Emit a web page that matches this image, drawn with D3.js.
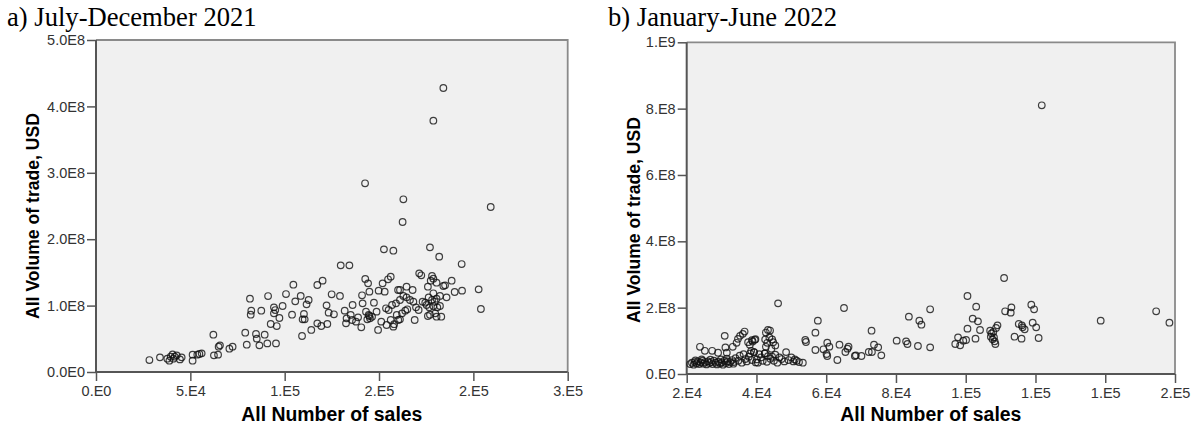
<!DOCTYPE html>
<html>
<head>
<meta charset="utf-8">
<script src="https://cdn.jsdelivr.net/npm/d3@7"></script>
<style>
  html, body { margin: 0; padding: 0; background: #fff; }
  svg { display: block; }
  .tick text { font-family: "Liberation Sans", Arial, sans-serif; font-size: 14.5px; fill: #333; }
  .tick line { stroke: #555; stroke-width: 1.5; }
  .domain { display: none; }
</style>
</head>
<body>
<svg id="chart" width="1199" height="432"></svg>
<script>
// Panel a) July-December 2021: number of sales (thousands) vs volume of trade (million USD)
const salesA = [
  28.3, 33.9, 37.8, 38.9, 39.6, 40.6, 41.0, 41.7, 42.8, 44.5, 45.4, 51.2, 51.2, 53.7, 54.8, 56.0,
  62.2, 62.5, 64.7, 65.0, 65.7, 70.7, 72.4, 79.1, 79.9, 81.6, 82.3, 82.0, 84.8, 85.2, 86.6, 87.6,
  89.4, 90.8, 91.2, 92.6, 94.3, 94.3, 95.0, 95.8, 95.4, 97.2, 98.9, 100.7, 103.9, 104.6, 105.6,
  108.5, 110.2, 109.5, 110.6, 111.6, 112.7, 109.2, 114.1, 117.3, 120.1, 117.3, 119.4, 122.6, 122.2,
  123.3, 126.1, 124.9, 129.3, 129.7, 134.3, 131.8, 132.8, 132.5, 135.0, 135.7, 136.0, 137.8, 138.9,
  141.0, 141.3, 140.6, 142.7, 144.2, 144.9, 143.1, 144.5, 145.2, 146.3, 143.8, 144.9, 147.3, 148.7,
  149.5, 149.8, 151.2, 151.9, 153.0, 154.0, 153.7, 155.1, 156.2, 156.9, 157.6, 158.0, 154.8, 156.2,
  159.0, 160.1, 159.4, 160.2, 152.6, 157.6, 142.6,
  162.5, 177.0, 181.9, 193.8, 171.3, 172.4, 178.1, 178.8, 177.4, 180.5, 184.1, 185.0, 188.5, 190.1,
  194.0, 202.8, 204.0, 175.9, 185.8, 182.3, 178.8, 176.3, 178.1, 179.5, 180.5, 175.2, 176.6, 178.8,
  180.9, 182.3, 175.9, 177.0, 179.8, 180.5, 183.0, 174.5, 173.1, 171.0, 168.9, 169.6, 168.2, 166.4,
  164.6, 162.9, 161.1, 164.6, 167.8, 161.1, 163.9, 162.2, 165.0, 161.1,
  162.9, 209.2, 184.1, 178.8
];
const volumeA = [
  18.0, 22.1, 20.0, 17.0, 23.1, 26.6, 20.0, 23.1, 25.1, 19.0, 22.1, 17.0, 26.1, 26.1, 27.1, 28.1,
  56.2, 25.1, 26.1, 38.1, 40.1, 35.1, 38.1, 59.2, 41.1, 110.4, 92.3, 86.3, 57.2, 50.2, 40.1, 92.3,
  56.2, 43.1, 114.4, 72.3, 97.4, 88.3, 93.3, 69.2, 43.1, 81.3, 99.4, 117.4, 86.3, 131.5, 106.4,
  114.5, 87.4, 79.3, 79.3, 101.9, 108.4, 54.2, 63.3, 131.0, 137.6, 73.3, 69.3, 72.3, 100.4,
  89.4, 86.9, 117.0, 114.5, 160.6, 160.6, 92.4, 80.8, 73.3, 85.9, 78.3, 100.9, 75.8, 82.3,
  115.5, 103.4, 67.3, 140.1, 133.5, 121.0, 90.9, 85.9, 80.8, 83.3, 79.3, 84.3, 104.4, 90.9,
  63.3, 122.5, 75.8, 133.5, 121.0, 70.8, 95.9, 93.4, 78.3, 100.9, 68.3, 72.0, 139.6, 143.6,
  103.4, 123.5, 85.9, 78.3, 184.7, 182.7, 284.2,
  225.9, 187.7, 173.7, 162.6, 148.6, 145.6, 144.6, 140.6, 137.5, 134.5, 129.5, 130.5, 137.5, 120.5,
  122.5, 124.5, 94.9, 128.5, 112.4, 114.5, 118.5, 112.4, 108.4, 105.9, 110.4, 100.9, 97.4, 99.4,
  97.4, 99.4, 84.3, 86.3, 88.3, 83.3, 83.3, 104.4, 105.9, 93.4, 78.3, 97.4, 105.9, 108.4,
  112.4, 114.5, 108.4, 128.5, 123.5, 123.5, 92.4, 88.3, 94.4, 79.3,
  260.1, 248.5, 427.7, 378.5
];

// Panel b) January-June 2022
const salesB = [
  21.0, 21.5, 22.0, 22.3, 22.8, 23.2, 23.6, 24.0, 24.5, 24.8, 25.2, 25.7, 26.1, 26.5, 27.0, 27.4,
  27.8, 28.3, 28.7, 29.1, 29.6, 30.0, 30.4, 30.8, 31.2, 31.7, 32.1, 32.5, 33.0, 33.4, 24.3, 26.8,
  29.8, 31.5, 22.5,
  33.5, 34.0, 34.8, 35.2, 35.8, 36.3, 36.8, 37.2, 37.8, 38.2, 38.7, 39.3, 39.8, 40.1, 40.4, 40.8,
  41.3, 41.8, 42.4, 43.0, 43.3, 44.0, 44.5, 45.0, 45.4, 46.0, 46.6, 47.2, 48.0, 48.5, 49.2, 50.0,
  50.6, 51.0, 51.5, 52.2, 53.3,
  23.8, 25.2, 27.3, 29.0, 30.9, 31.1, 31.5, 33.2, 34.3, 34.7, 35.3, 36.1, 36.6, 37.6, 38.1, 38.7,
  38.9, 39.5, 39.7, 38.5, 39.3, 42.7, 43.3, 43.9, 42.5, 43.1, 43.7, 44.5, 44.8, 42.7, 44.3, 45.4,
  42.4, 46.2,
  54.0, 54.2, 56.9, 57.6, 56.9, 59.2, 60.3, 60.9, 60.1, 60.3, 63.2, 63.8, 65.5, 66.4, 66.1, 68.2,
  68.5, 70.1, 73.0, 72.2, 73.1, 73.7, 74.9, 75.8, 65.1,
  80.2, 82.9, 83.3, 83.7, 86.3, 86.7, 87.3, 89.8, 89.8,
  97.0, 98.4, 97.8, 99.3, 100.1, 102.8, 100.5, 102.0, 103.5, 104.1, 100.5, 103.0,
  107.0, 107.4, 107.9, 107.7, 107.2, 108.5, 108.1, 108.7, 109.1, 108.3,
  111.0, 111.3, 112.9, 113.1, 115.2, 116.1, 116.9, 116.3, 114.0, 116.0,
  118.8, 119.6, 119.2, 120.2, 120.9, 121.8, 138.7, 154.6, 158.4
];
const volumeB = [
  30, 34, 28, 36, 32, 38, 30, 35, 40, 31, 36, 29, 38, 33, 36, 30,
  40, 34, 29, 37, 32, 35, 28, 40, 33, 38, 30, 36, 42, 31, 44, 43,
  44, 46, 41,
  36, 48, 40, 55, 34, 60, 45, 38, 52, 62, 42, 66, 35, 44, 34, 60,
  50, 40, 62, 37, 54, 46, 52, 40, 58, 34, 50, 45, 38, 66, 42, 50,
  38, 44, 40, 36, 34,
  82, 70, 70, 64, 115, 80, 64, 82, 94, 106, 115, 121, 128, 96, 88, 102,
  98, 103, 105, 70, 66, 125, 133, 131, 104, 94, 110, 104, 96, 82, 76, 86,
  62, 213,
  102.5, 96.5, 124.6, 160.8, 72.4, 74.4, 94.5, 82.4, 60.3, 54.3, 42.2, 88.4, 66.3, 82.4, 76.4, 54.3,
  56.3, 54.3, 130.6, 66.3, 66.3, 88.4, 80.4, 56.3, 199.0,
  100.5, 98.5, 90.4, 172.9, 84.4, 160.8, 148.7, 195.0, 80.4,
  90.4, 86.4, 110.5, 100.5, 102.5, 106.5, 136.7, 166.8, 158.8, 132.6, 235.2, 203.0,
  130.6, 122.6, 126.6, 104.5, 112.5, 90.4, 110.5, 138.7, 146.7, 98.5,
  289.4, 189.0, 184.9, 201.0, 150.7, 146.7, 134.6, 140.7, 112.5, 106.5,
  209.0, 195.0, 154.7, 140.7, 108.5, 810.0, 160.8, 189.0, 154.7
];

// Axis ticks (values in thousands / millions) and their printed labels
const xTicksA = [0, 50, 100, 150, 200, 250];
const xLabelsA = ["0.E0", "5.E4", "1.E5", "2.E5", "2.E5", "3.E5"];
const yTicksA = [0, 100, 200, 300, 400, 500];
const yLabelsA = ["0.0E0", "1.0E8", "2.0E8", "3.0E8", "4.0E8", "5.0E8"];
const xTicksB = [20, 40, 60, 80, 100, 120, 140, 160];
const xLabelsB = ["2.E4", "4.E4", "6.E4", "8.E4", "1.E5", "1.E5", "1.E5", "2.E5"];
const yTicksB = [0, 200, 400, 600, 800, 1000];
const yLabelsB = ["0.E0", "2.E8", "4.E8", "6.E8", "8.E8", "1.E9"];

const titles = ["a) July-December 2021", "b) January-June 2022"];
const xTitle = "All Number of sales";
const yTitle = "All Volume of trade, USD";

const svg = d3.select("#chart");

const panels = [
  { title: titles[0], titleX: 7, sales: salesA, volume: volumeA,
    xDomain: [0, 250], yDomain: [0, 500], left: 96, right: 567.7, top: 40, bottom: 372,
    xTicks: xTicksA, xLabels: xLabelsA, yTicks: yTicksA, yLabels: yLabelsA,
    yTitleX: 39, yTitleY: 216 },
  { title: titles[1], titleX: 608, sales: salesB, volume: volumeB,
    xDomain: [20, 160], yDomain: [0, 1000], left: 686.7, right: 1175, top: 42.3, bottom: 374,
    xTicks: xTicksB, xLabels: xLabelsB, yTicks: yTicksB, yLabels: yLabelsB,
    yTitleX: 640, yTitleY: 220 }
];

panels.forEach(p => {
  const g = svg.append("g");
  const x = d3.scaleLinear().domain(p.xDomain).range([p.left, p.right]);
  const y = d3.scaleLinear().domain(p.yDomain).range([p.bottom, p.top]);

  g.append("text")
    .attr("x", p.titleX).attr("y", 26)
    .attr("font-family", "'Liberation Serif', 'Times New Roman', serif")
    .attr("font-size", 26.6).attr("fill", "#000")
    .text(p.title);

  // plot area background and frame
  g.append("rect")
    .attr("x", p.left).attr("y", p.top)
    .attr("width", p.right - p.left).attr("height", p.bottom - p.top)
    .attr("fill", "#f0f0f0");
  g.append("path")
    .attr("d", `M${p.left},${p.top}H${p.right}V${p.bottom}`)
    .attr("fill", "none").attr("stroke", "#8a8a8a").attr("stroke-width", 1.8);

  const xAxis = d3.axisBottom(x)
    .tickValues(p.xTicks)
    .tickFormat((d, i) => p.xLabels[i])
    .tickSize(9).tickSizeOuter(0).tickPadding(5);
  g.append("g").attr("transform", `translate(0,${p.bottom})`).call(xAxis);

  const yAxis = d3.axisLeft(y)
    .tickValues(p.yTicks)
    .tickFormat((d, i) => p.yLabels[i])
    .tickSize(9).tickSizeOuter(0).tickPadding(2);
  g.append("g").attr("transform", `translate(${p.left},0)`).call(yAxis);

  // axis lines
  g.append("path")
    .attr("d", `M${p.left},${p.top}V${p.bottom}H${p.right}`)
    .attr("fill", "none").attr("stroke", "#555").attr("stroke-width", 2);

  // scatter points
  g.append("g").selectAll("circle")
    .data(p.sales.map((s, i) => [s, p.volume[i]]))
    .join("circle")
    .attr("cx", d => x(d[0]))
    .attr("cy", d => y(d[1]))
    .attr("r", 3.3)
    .attr("fill", "none")
    .attr("stroke", "#111")
    .attr("stroke-opacity", 0.8)
    .attr("stroke-width", 1.2);

  g.append("text")
    .attr("x", (p.left + p.right) / 2).attr("y", 421)
    .attr("text-anchor", "middle")
    .attr("font-family", "'Liberation Sans', Arial, sans-serif")
    .attr("font-weight", "bold").attr("font-size", 19.4).attr("fill", "#000")
    .text(xTitle);

  g.append("text")
    .attr("transform", `translate(${p.yTitleX},${p.yTitleY}) rotate(-90)`)
    .attr("text-anchor", "middle")
    .attr("font-family", "'Liberation Sans', Arial, sans-serif")
    .attr("font-weight", "bold").attr("font-size", 17.6).attr("fill", "#000")
    .text(yTitle);
});
</script>
</body>
</html>
